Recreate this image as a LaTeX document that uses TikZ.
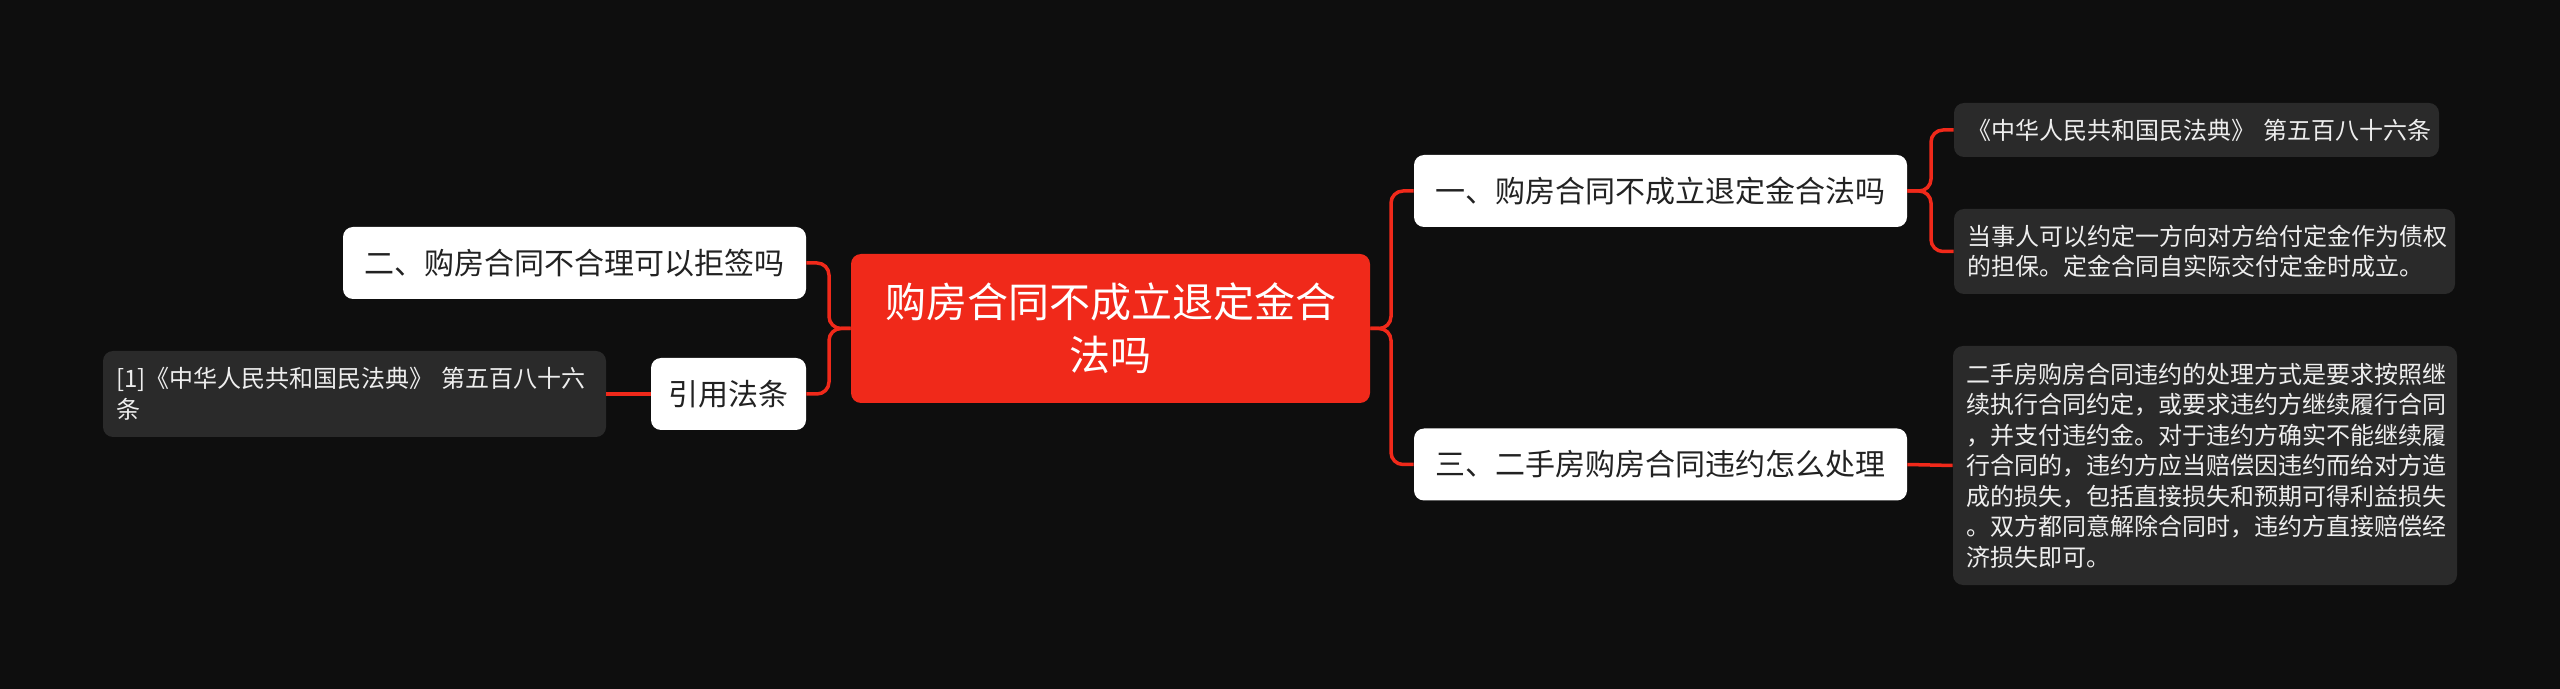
\documentclass[tikz,border=0pt]{standalone}
\usepackage{fontspec}
\setmainfont{Noto Sans CJK SC}
\definecolor{bg}{HTML}{0E0E0E}
\definecolor{accent}{HTML}{F0291A}
\definecolor{leafgray}{HTML}{2A2A2A}
\definecolor{darktext}{HTML}{222222}
\definecolor{lighttext}{HTML}{EEEEEE}
\tikzset{
  box/.style={rounded corners=5pt, inner sep=0pt, anchor=center},
  rootbox/.style={box, fill=accent, text=white, font=\fontsize{20.5pt}{26.5pt}\selectfont, align=center, minimum width=259.5pt, minimum height=74.5pt},
  topic/.style={box, fill=white, text=darktext, font=\fontsize{15pt}{18pt}\selectfont, minimum height=36pt},
  leafbox/.style={box, fill=leafgray, text=lighttext, font=\fontsize{12pt}{15.25pt}\selectfont, align=left, inner xsep=6.5pt},
  link/.style={draw=accent, line width=1.75pt, rounded corners=6pt},
}
\begin{document}
\begin{tikzpicture}[x=0.5pt,y=-0.5pt]
\fill[bg] (0,0) rectangle (2560,689);
\useasboundingbox (0,0) rectangle (2560,689);

\node[rootbox] (root) at (1110.5,328.5) {购房合同不成立退定金合\\法吗};

\node[topic, minimum width=246.5pt] (n1) at (1660.5,191) {一、购房合同不成立退定金合法吗};
\node[topic, minimum width=246.5pt] (n3) at (1660.5,464.5) {三、二手房购房合同违约怎么处理};
\node[topic, minimum width=231.5pt] (n2) at (574.5,263) {二、购房合同不合理可以拒签吗};
\node[topic, minimum width=77.5pt] (ref) at (728.5,394) {引用法条};

\node[leafbox, text width=229.5pt, minimum height=27pt] (l1) at (2196.5,130) {\mbox{《中华人民共和国民法典》 第五百八十六条}};
\node[leafbox, text width=237.5pt, minimum height=42.5pt] (l2) at (2204.5,251.5) {当事人可以约定一方向对方给付定金作为债权\\的担保。定金合同自实际交付定金时成立。};
\node[leafbox, text width=239pt, minimum height=119.5pt] (l3) at (2205,465.5) {二手房购房合同违约的处理方式是要求按照继\\续执行合同约定，或要求违约方继续履行合同\\，并支付违约金。对于违约方确实不能继续履\\行合同的，违约方应当赔偿因违约而给对方造\\成的损失，包括直接损失和预期可得利益损失\\。双方都同意解除合同时，违约方直接赔偿经\\济损失即可。};
\node[leafbox, text width=238.5pt, minimum height=43pt] (lr) at (354.5,394) {[1]《中华人民共和国民法典》 第五百八十六\\条};

\coordinate (jr) at (1391,328.5);
\coordinate (jl) at (829,328.5);
\coordinate (j1) at (1931,191);

\draw[link] (root.east) -- (jr) |- (n1.west);
\draw[link] (root.east) -- (jr) |- (n3.west);
\draw[link] (root.west) -- (jl) |- (n2.east);
\draw[link] (root.west) -- (jl) |- (ref.east);
\draw[link] (n1.east) -- (j1) |- (l1.west);
\draw[link] (n1.east) -- (j1) |- (l2.west);
\draw[link] (n3.east) -- (l3.west);
\draw[link] (ref.west) -- (lr.east);
\end{tikzpicture}
\end{document}
